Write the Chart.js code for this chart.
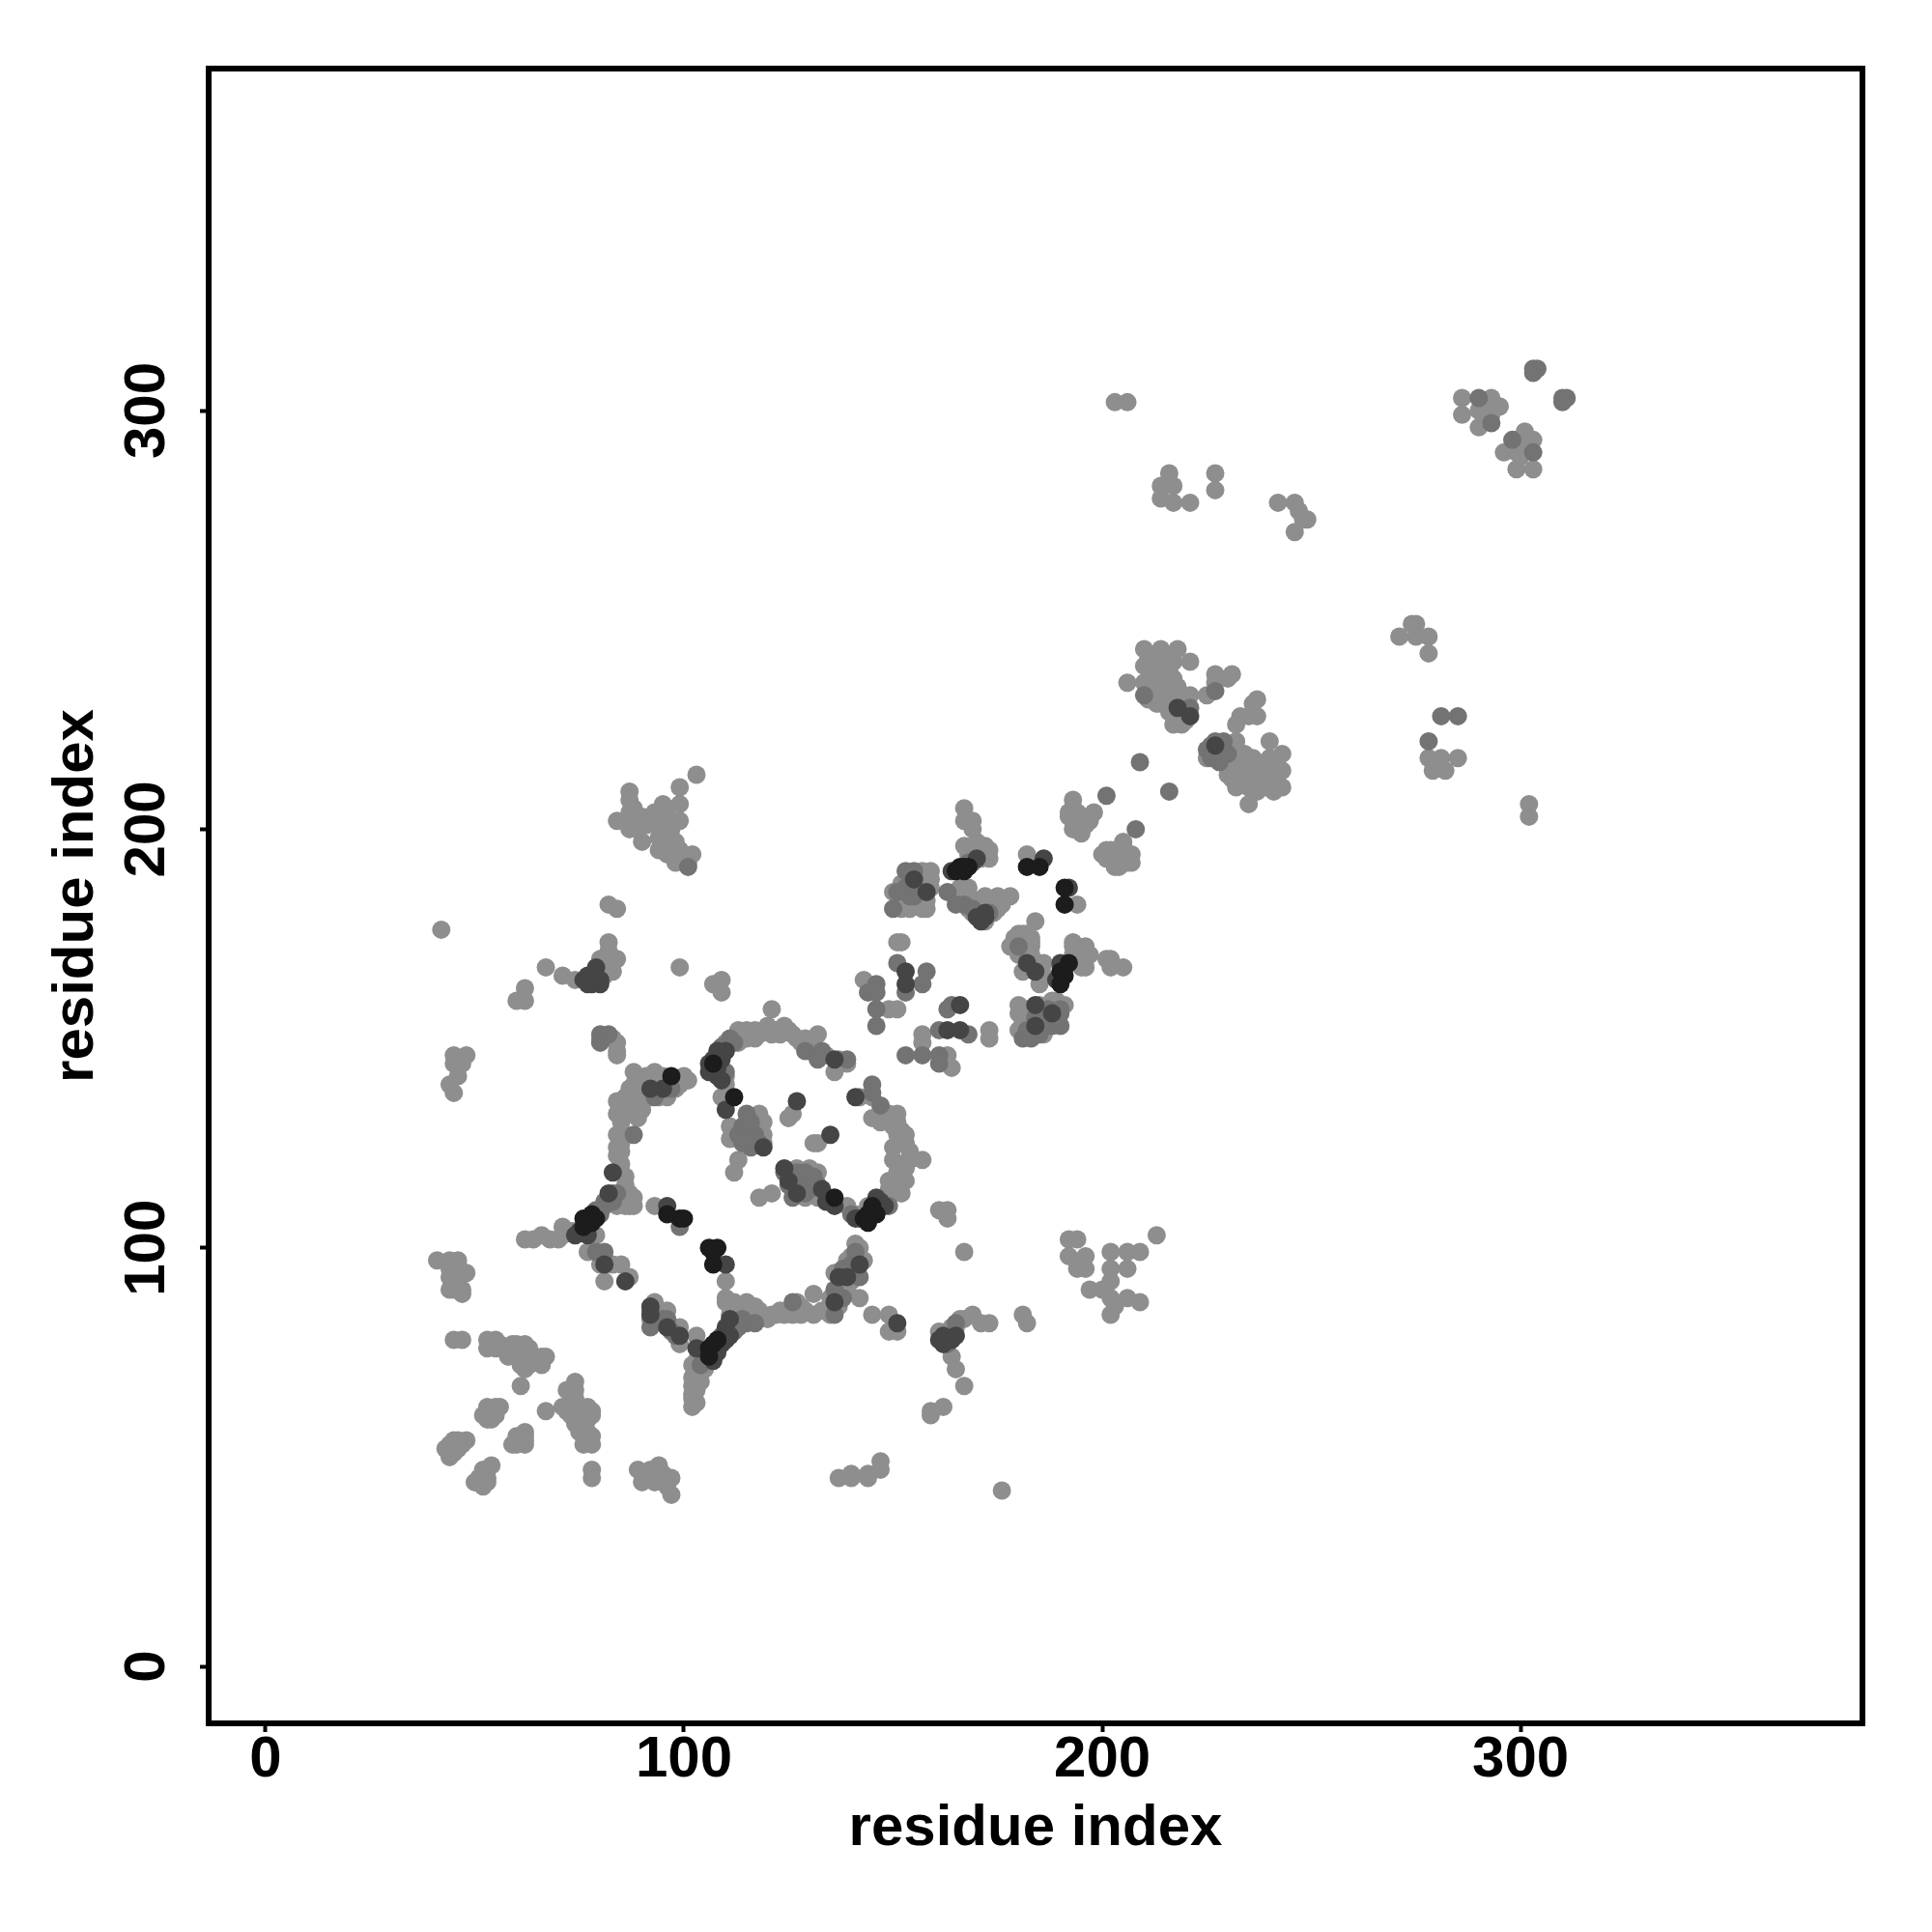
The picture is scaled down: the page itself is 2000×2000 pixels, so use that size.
<!DOCTYPE html>
<html>
<head>
<meta charset="utf-8">
<title>residue index</title>
<script src="https://cdn.jsdelivr.net/npm/chart.js@4"></script>
<style>
html, body { margin: 0; padding: 0; background: #ffffff; }
canvas { display: block; }
</style>
</head>
<body>
<canvas id="graficoContactos" width="2000" height="2000" style="width:2000px;height:2000px"></canvas>
<script>
// Valores: [residuo x, residuo y], un grupo por tono de gris
const puntosNegros = [[99,107],[100,107],[96,108],[106,100],[108,100],[107,99],[107,96],[112,136],[136,112],[182,191],[185,191],[191,186],[191,182],[166,191],[167,190],[168,191],[165,190],[190,166],[191,165],[190,163],[192,168],[76,107],[77,106],[78,108],[76,105],[106,76],[107,77],[108,78],[106,74],[143,107],[144,108],[145,110],[146,108],[107,144],[97,141],[167,191],[144,106],[79,107],[78,106]];
const puntosOscuros = [[96,110],[110,96],[127,135],[135,127],[153,166],[153,163],[192,186],[186,193],[164,190],[170,193],[190,168],[191,167],[189,164],[75,104],[74,103],[77,103],[81,96],[86,92],[92,84],[92,86],[96,81],[99,79],[103,76],[107,73],[110,81],[110,80],[111,83],[151,82],[164,78],[165,79],[163,78],[142,96],[139,93],[108,143],[106,142],[110,147],[83,118],[82,113],[76,164],[77,163],[78,165],[79,167],[80,163],[182,168],[184,166],[172,179],[171,178],[166,158],[163,152],[166,152],[184,153],[227,220],[221,227],[218,229],[124,119],[119,124],
    [107,145],[108,147],[106,144],[108,141],[109,140],[146,112],[147,111],[146,109],[142,107],[141,107],[148,110],[127,113],[133,114],[134,111],[136,110],[125,116],[92,138],[95,138],[108,75],[109,77],[110,78],[111,79],[136,87],[137,93],[170,179],[172,180],[162,79],[161,78],[162,77],[78,163],[79,164],[80,164],[77,165],[155,188],[158,185],[184,158],[188,156],[136,145],[141,136],[110,133],[109,145]];
const puntosMedios = [[146,163],[144,161],[146,161],[146,157],[146,153],[151,168],[158,166],[157,163],[153,161],[161,152],[168,151],[163,157],[164,158],[153,146],[157,146],[161,146],[161,144],[181,150],[190,153],[190,156],[187,157],[185,151],[210,232],[227,233],[225,219],[227,221],[229,221],[221,229],[116,124],[114,125],[115,132],[114,129],[88,127],[125,115],[128,115],[132,115],[126,112],[126,87],[142,93],[140,96],[138,88],[136,84],[92,81],[80,151],[82,151],[80,149],[79,99],[81,99],[145,139],[147,134],[139,145],[133,147],[132,145],[129,147],[153,190],[155,190],[151,185],[150,181],[155,184],[163,185],[165,182],[167,182],[209,216],[216,209],[201,208],[208,200],[281,227],[285,227],[278,221],[303,290],[310,303],[303,310],[290,303],
    [108,146],[109,147],[111,150],[127,118],[129,118],[131,117],[83,111],[83,113],[82,111],[84,113],[81,111],[104,72],[105,73],[92,85],[93,83],[95,83],[96,83],[97,80],[98,79],[154,184],[153,186],[182,152],[184,151],[184,155],[186,154],[186,155],[188,153],[189,155],[183,150],[303,309],[304,310],[310,302],[311,303],[226,220],[228,219],[226,217],[228,216],[113,127],[116,128],[117,127],[116,130],[115,126],[117,125],
    [112,149],[109,148],[110,142],[130,114],[126,114],[124,118],[129,113],[140,108],[149,110],[136,90],[138,95],[141,99],[140,95],[81,110],[80,109],[97,138],[93,136],[112,80],[114,83],[115,82],[113,81],[117,82],[112,82],[180,172],[173,180],[169,181],[230,218],[229,219],[293,297],[298,293],[163,77],[165,82],[101,191],[187,155],[118,125],[145,137],[168,192],[169,192],[77,104],[80,108],[79,109],[105,75],[109,79],[145,108],[146,110],[99,105],[190,157]];
const puntosClaros = [
    // esquina inferior izquierda
    [41,97],[44,97],[46,97],[44,93],[48,94],[44,90],[47,90],[46,92],[47,89],[45,90],[44,95],[45,95],[45,93],[46,90],[46,96],
    [45,78],[47,78],[53,78],[55,78],[53,76],[55,76],[56,76],[59,77],[62,77],[62,75],[60,74],[62,73],[62,71],[66,72],[67,74],[66,73],[61,67],[56,77],[58,75],[58,74],[60,76],[61,76],[63,76],[63,74],[63,72],[61,72],[60,77],[65,73],[66,74],
    [74,68],[72,66],[74,66],[67,61],[71,62],[73,60],[77,62],[77,59],[74,58],[75,56],[78,55],[76,53],[78,53],[74,63],[78,47],[78,45],[73,65],[74,64],[75,61],[76,61],[75,59],[76,58],[76,55],[77,54],[77,56],[75,62],[78,60],[78,61],[72,61],
    [53,62],[56,62],[53,59],[55,60],[62,56],[60,53],[62,53],[59,53],[61,54],[53,61],[54,60],[55,62],[54,59],[52,60],[60,54],[61,55],[62,55],[60,55],[62,54],
    [48,54],[46,53],[44,53],[43,52],[44,50],[45,52],[54,48],[53,47],[50,44],[52,43],[53,45],[51,45],[45,54],[46,54],[47,53],[44,51],[45,51],[46,52],[52,44],[52,46],[52,47],[53,44],[51,44],
    [89,47],[90,44],[94,48],[93,44],[97,45],[97,41],[91,46],[95,46],[90,46],[92,47],[92,45],[94,45],[95,44],[96,43],
    [137,45],[140,46],[140,45],[144,46],[147,47],[147,49],[144,45],[176,42],[159,60],[162,62],[159,61],[167,67],
    // banda inferior
    [161,80],[163,80],[165,81],[167,83],[169,84],[173,82],[171,82],[181,84],[182,82],[164,74],[165,71],[163,79],[164,81],[166,83],
    [145,84],[149,84],[149,80],[151,80],[93,87],[92,83],[96,85],[99,81],[99,77],[103,79],
    [102,62],[102,65],[102,67],[103,70],[102,72],[105,71],[110,88],[112,86],[115,87],[110,87],[112,87],[111,84],[114,84],[118,85],[118,83],[103,63],[102,64],[102,69],[104,68],[103,66],[103,73],[104,75],
    [121,84],[124,84],[126,84],[127,87],[125,85],[127,85],[131,89],[131,84],[134,85],[135,88],[138,91],[141,101],[142,100],[142,88],[139,97],[138,93],[136,94],
    [111,86],[113,85],[113,86],[115,85],[116,86],[116,84],[117,84],[117,86],[120,83],[122,84],[123,85],[126,86],[128,86],[128,84],[129,85],[133,85],[135,84],[137,86],[137,90],[139,90],[140,92],[140,98],[141,94],[143,97],
    [110,92],[93,110],[87,93],[85,96],[81,92],[77,99],[80,96],[83,96],[79,103],
    // fila y columna de la estrella izquierda
    [62,102],[64,102],[66,103],[68,102],[71,105],[70,102],[73,104],[71,103],[74,104],[78,103],
    [84,127],[86,127],[84,124],[84,122],[85,118],[86,114],[86,113],[86,110],[84,110],[87,110],[84,135],[84,132],[88,132],[88,142],[88,139],[88,136],[88,134],
    [85,130],[86,132],[85,134],[86,136],[87,138],[89,140],[90,135],[90,133],[89,131],[85,125],[85,123],[85,120],[86,117],[86,115],[87,113],[88,112],[85,112],[85,111],[87,111],[88,110],
    [93,142],[93,138],[92,136],[96,139],[100,141],[96,136],[93,140],[91,137],[84,149],[84,146],[90,140],[91,141],[92,139],[94,140],[95,141],[97,139],[98,138],[99,139],[101,140],[95,137],[94,136],[90,138],[80,150],[83,150],[84,147],
    [82,182],[84,181],[82,173],[82,171],[84,169],[82,167],[67,167],[71,165],[74,164],[60,159],[62,162],[62,159],[42,176],[80,169],[81,168],[83,166],[81,165],
    [45,146],[48,146],[45,144],[47,144],[46,141],[45,137],[44,139],
    [99,167],[107,163],[109,164],[109,161],
    // anillo central
    [110,139],[110,141],[109,136],[111,129],[111,126],[118,132],[118,129],[119,127],[119,125],[113,121],[112,118],[118,112],[121,113],[119,130],[118,128],[118,127],
    [126,132],[125,131],[132,125],[131,125],[127,119],[130,119],[132,118],[129,112],[132,112],[139,110],[141,108],[144,110],[148,112],[152,113],[149,116],[152,117],[152,120],[157,121],[154,121],[150,121],[150,124],[153,125],[151,127],[150,129],[149,132],[151,132],[145,131],[142,136],[145,136],
    [147,130],[148,131],[150,131],[151,130],[152,128],[153,127],[152,125],[154,123],[153,119],[151,118],[153,116],[151,115],[150,113],[149,114],
    [121,157],[120,153],[113,152],[110,149],[113,150],[117,152],[117,150],[121,151],[124,153],[126,151],[129,150],[132,151],[137,145],[139,144],[136,142],
    [112,150],[114,151],[115,152],[113,149],[115,150],[116,151],[118,151],[119,152],[122,152],[123,151],[125,152],[127,150],[128,149],[130,149],[131,148],[130,147],[134,146],
    // grupos sobre la diagonal
    [167,205],[167,202],[169,202],[169,200],[172,196],[169,196],[167,196],[173,193],[171,193],[168,194],[182,194],[194,182],[166,186],[168,186],[168,181],[172,178],[174,180],[172,182],[175,184],[178,184],[173,183],[175,181],[171,183],
    [170,195],[171,195],[172,194],[170,197],[173,195],[171,194],[170,194],[167,184],[169,180],[170,181],[171,180],[173,181],[174,182],[176,182],[170,183],[172,184],
    [184,178],[180,175],[178,172],[182,175],[183,172],[180,170],[183,170],[186,168],[181,166],[184,166],[186,165],[185,163],[193,173],[196,172],[194,170],[196,169],[196,167],[201,169],[202,169],[202,167],[205,167],
    [181,175],[181,173],[182,171],[183,174],[183,173],[179,173],[179,174],[181,172],[185,168],[185,167],[183,167],[194,172],[195,171],[194,168],[195,167],[193,170],[193,172],[197,170],
    [180,158],[181,154],[183,154],[185,158],[151,173],[152,173],[143,164],[149,157],[151,157],[173,152],[173,150],[157,151],[157,149],[163,146],[164,143],[159,190],[159,188],[150,185],[152,181],[154,181],[158,181],[155,186],
    [152,187],[154,187],[157,190],[158,188],[158,183],[155,182],[157,181],[156,185],[152,183],[153,182],[156,183],[159,186],[157,187],
    [180,156],[180,152],[182,156],[181,152],[182,157],[186,151],[187,153],[189,158],[191,158],[189,159],[188,159],
    [193,207],[192,203],[194,200],[196,203],[198,204],[193,202],[200,194],[203,191],[207,194],[205,197],[202,195],[204,194],[207,192],
    [193,205],[194,204],[195,203],[194,202],[195,201],[196,201],[197,202],[192,204],[193,200],[195,199],[197,203],[201,195],[202,193],[203,193],[204,191],[205,196],[206,194],[206,192],[201,193],[205,193],[203,195],
    // cuadrante superior derecho
    [210,243],[214,243],[218,243],[221,240],[210,239],[214,239],[217,240],[206,235],[210,235],[214,235],[217,236],[213,230],[217,232],[221,232],[217,227],[217,225],[219,225],[217,230],[214,232],
    [211,241],[213,241],[215,241],[212,238],[215,238],[213,236],[212,233],[214,230],[216,229],[213,234],[215,233],[216,235],[218,234],[219,231],[218,228],[220,226],[216,228],[212,236],[211,231],[212,232],[218,233],[216,238],
    [227,237],[231,237],[230,236],[225,232],[227,235],[237,231],[236,230],[233,227],[237,227],[232,225],[235,227],
    [225,217],[232,221],[227,217],[230,217],[232,217],[236,217],[240,221],[243,218],[240,217],[230,213],[232,213],[236,213],[240,214],[243,214],[232,210],[235,210],[239,210],[243,210],[235,206],[234,215],
    [233,217],[234,218],[235,215],[237,216],[238,214],[238,212],[241,212],[236,211],[233,211],[234,212],[231,214],[232,215],[231,212],[237,209],[241,209],[241,216],[242,215],
    [278,217],[281,217],[285,217],[279,214],[282,214],[271,246],[275,249],[275,246],[278,246],[278,242],[274,249],
    [203,302],[206,302],[216,285],[214,282],[214,279],[217,278],[221,278],[217,282],[227,285],[227,281],[242,278],[246,278],[246,271],[249,274],[248,274],[247,276],[302,206],[302,203],
    [286,303],[293,303],[295,301],[286,299],[290,296],[293,299],[290,300],[292,298],[301,295],[299,293],[303,293],[296,290],[299,290],[299,286],[303,286],[299,291],[300,292],[301,292],[300,289],[291,301],[291,299],[292,301],
    // grupo superior izquierdo
    [87,209],[87,207],[84,202],[87,204],[90,203],[90,197],[87,200],[95,206],[95,204],[99,206],[99,210],[103,213],[99,202],[94,201],[94,198],[94,195],[98,197],[98,193],[102,194],[101,192],[98,192],
    [88,205],[89,202],[89,200],[91,201],[88,202],[93,204],[96,205],[96,203],[97,200],[95,196],[96,194],[96,197],[99,195],[100,193],[97,195],
    // grupo inferior derecho
    [192,102],[194,102],[192,98],[196,98],[196,95],[194,95],[197,90],[200,90],[202,88],[202,92],[202,84],[203,86],[206,88],[209,87],[202,99],[206,99],[206,95],[202,95],[209,99],[213,103],
    [161,109],[163,109],[163,107],[167,99]
];
const ticksEje = [0, 100, 200, 300];
const tituloEje = 'residue index';

// Formato para el dataset de puntos
function aXY(lista) {
    return lista.map(p => ({ x: p[0], y: p[1] }));
}

function serie(lista, color) {
    return { data: aXY(lista), backgroundColor: color, pointRadius: 9.5, pointBorderWidth: 0, pointHoverRadius: 9.5 };
}

// Marco negro alrededor del area del grafico
const marco = {
    id: 'marco',
    afterDatasetsDraw(chart) {
        const a = chart.chartArea;
        const c = chart.ctx;
        c.save();
        c.strokeStyle = '#000000';
        c.lineWidth = 6;
        c.strokeRect(a.left, a.top, a.right - a.left, a.bottom - a.top);
        c.restore();
    }
};

const fuente = { family: '"Liberation Sans"', size: 60, weight: 'bold' };

const ctx = document.getElementById('graficoContactos').getContext('2d');
new Chart(ctx, {
    type: 'scatter',
    plugins: [marco],
    data: {
        // El primer dataset se pinta encima: los tonos oscuros quedan visibles
        datasets: [
            serie(puntosNegros, '#1c1c1c'),
            serie(puntosOscuros, '#454545'),
            serie(puntosMedios, '#737373'),
            serie(puntosClaros, '#8e8e8e')
        ]
    },
    options: {
        responsive: false,
        animation: false,
        layout: { padding: { top: 71, right: 72, left: 0, bottom: 0 } },
        plugins: { legend: { display: false }, tooltip: { enabled: false } },
        scales: {
            x: {
                type: 'linear',
                min: -13.6,
                max: 381.7,
                afterBuildTicks(eje) { eje.ticks = ticksEje.map(v => ({ value: v })); },
                afterFit(eje) { eje.height = 216; },
                border: { display: false },
                grid: { drawOnChartArea: false, color: '#000000', tickLength: 9, tickWidth: 4 },
                ticks: { color: '#000000', font: fuente, padding: -7, maxRotation: 0, minRotation: 0 },
                title: { display: true, text: tituloEje, color: '#000000', font: fuente, padding: { top: 0, bottom: 71 } }
            },
            y: {
                type: 'linear',
                min: -13.6,
                max: 381.7,
                afterBuildTicks(eje) { eje.ticks = ticksEje.map(v => ({ value: v })); },
                afterFit(eje) { eje.width = 216; },
                border: { display: false },
                grid: { drawOnChartArea: false, color: '#000000', tickLength: 9, tickWidth: 4 },
                ticks: { color: '#000000', font: fuente, padding: 3, minRotation: 90, maxRotation: 90, crossAlign: 'center' },
                title: { display: true, text: tituloEje, color: '#000000', font: fuente, padding: { top: 43, bottom: 0 } }
            }
        }
    }
});
</script>
</body>
</html>
